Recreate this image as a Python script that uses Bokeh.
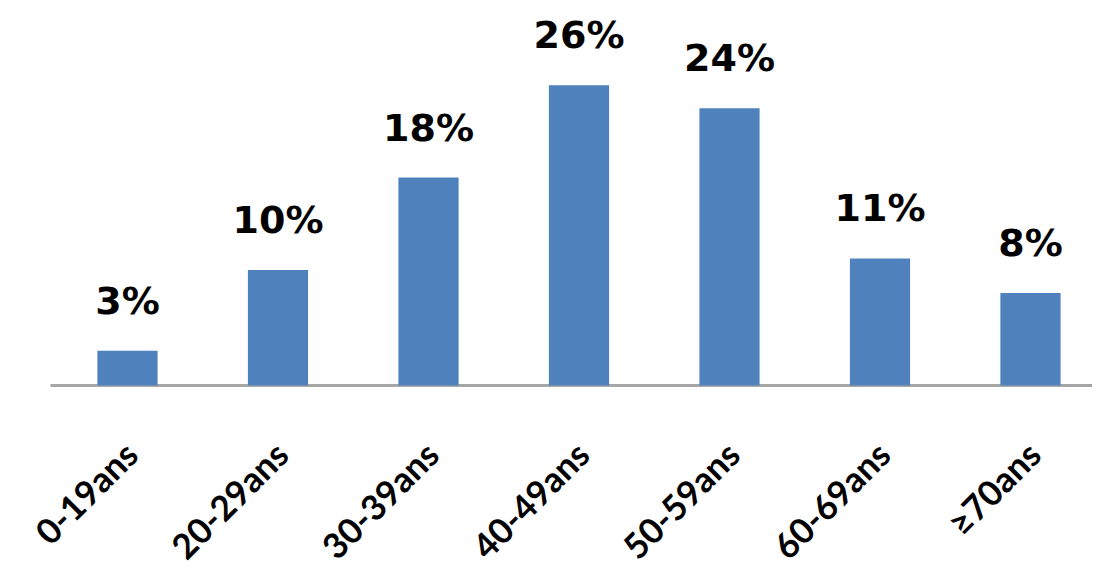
import math
from bokeh.plotting import figure
from bokeh.models import ColumnDataSource, Range1d
from bokeh.core.properties import value
from bokeh.embed import file_html
from bokeh.resources import INLINE

categories = ["0-19ans", "20-29ans", "30-39ans", "40-49ans", "50-59ans", "60-69ans", "≥70ans"]
values = [3, 10, 18, 26, 24, 11, 8]
value_labels = ["3%", "10%", "18%", "26%", "24%", "11%", "8%"]

xs = list(range(len(categories)))
src = ColumnDataSource(dict(x=xs, top=values, lab=value_labels,
                            cat=categories, base=[0] * len(xs)))

PX_X = 150.5      # pixels per category
PX_Y = 11.55      # pixels per percent
W, H = 1092, 572
AXIS_Y = 385
FIRST_X = 127
x_start = -FIRST_X / PX_X
x_end = x_start + W / PX_X
y_end = AXIS_Y / PX_Y
y_start = -(H - AXIS_Y) / PX_Y

p = figure(width=W, height=H, output_backend="svg", toolbar_location=None,
           x_range=Range1d(x_start, x_end), y_range=Range1d(y_start, y_end),
           x_axis_location=None, y_axis_location=None,
           min_border_left=0, min_border_right=0,
           min_border_top=0, min_border_bottom=0)
p.outline_line_color = None
p.xgrid.visible = False
p.ygrid.visible = False

# axis line starting slightly left of the first category band
p.segment(x0=[xs[0] - 0.512], y0=[0], x1=[x_end], y1=[0],
          line_color="#a6a6a6", line_width=3)

p.vbar(x="x", top="top", bottom=0, width=0.4, source=src,
       fill_color="#4f81bd", line_color=None)

p.text(x="x", y="top", text="lab", source=src, y_offset=-50,
       text_align="center", text_baseline="alphabetic",
       text_font=value("DejaVu Sans"), text_font_style="bold",
       text_font_size="38px", text_color="#000000")

p.text(x="x", y="base", text="cat", source=src, x_offset=3, y_offset=62,
       angle=math.pi / 4, text_align="right", text_baseline="middle",
       text_font=value("Lato"), text_font_style="bold",
       text_font_size="35px", text_color="#000000")

open("out.html", "w").write(file_html(p, INLINE))
